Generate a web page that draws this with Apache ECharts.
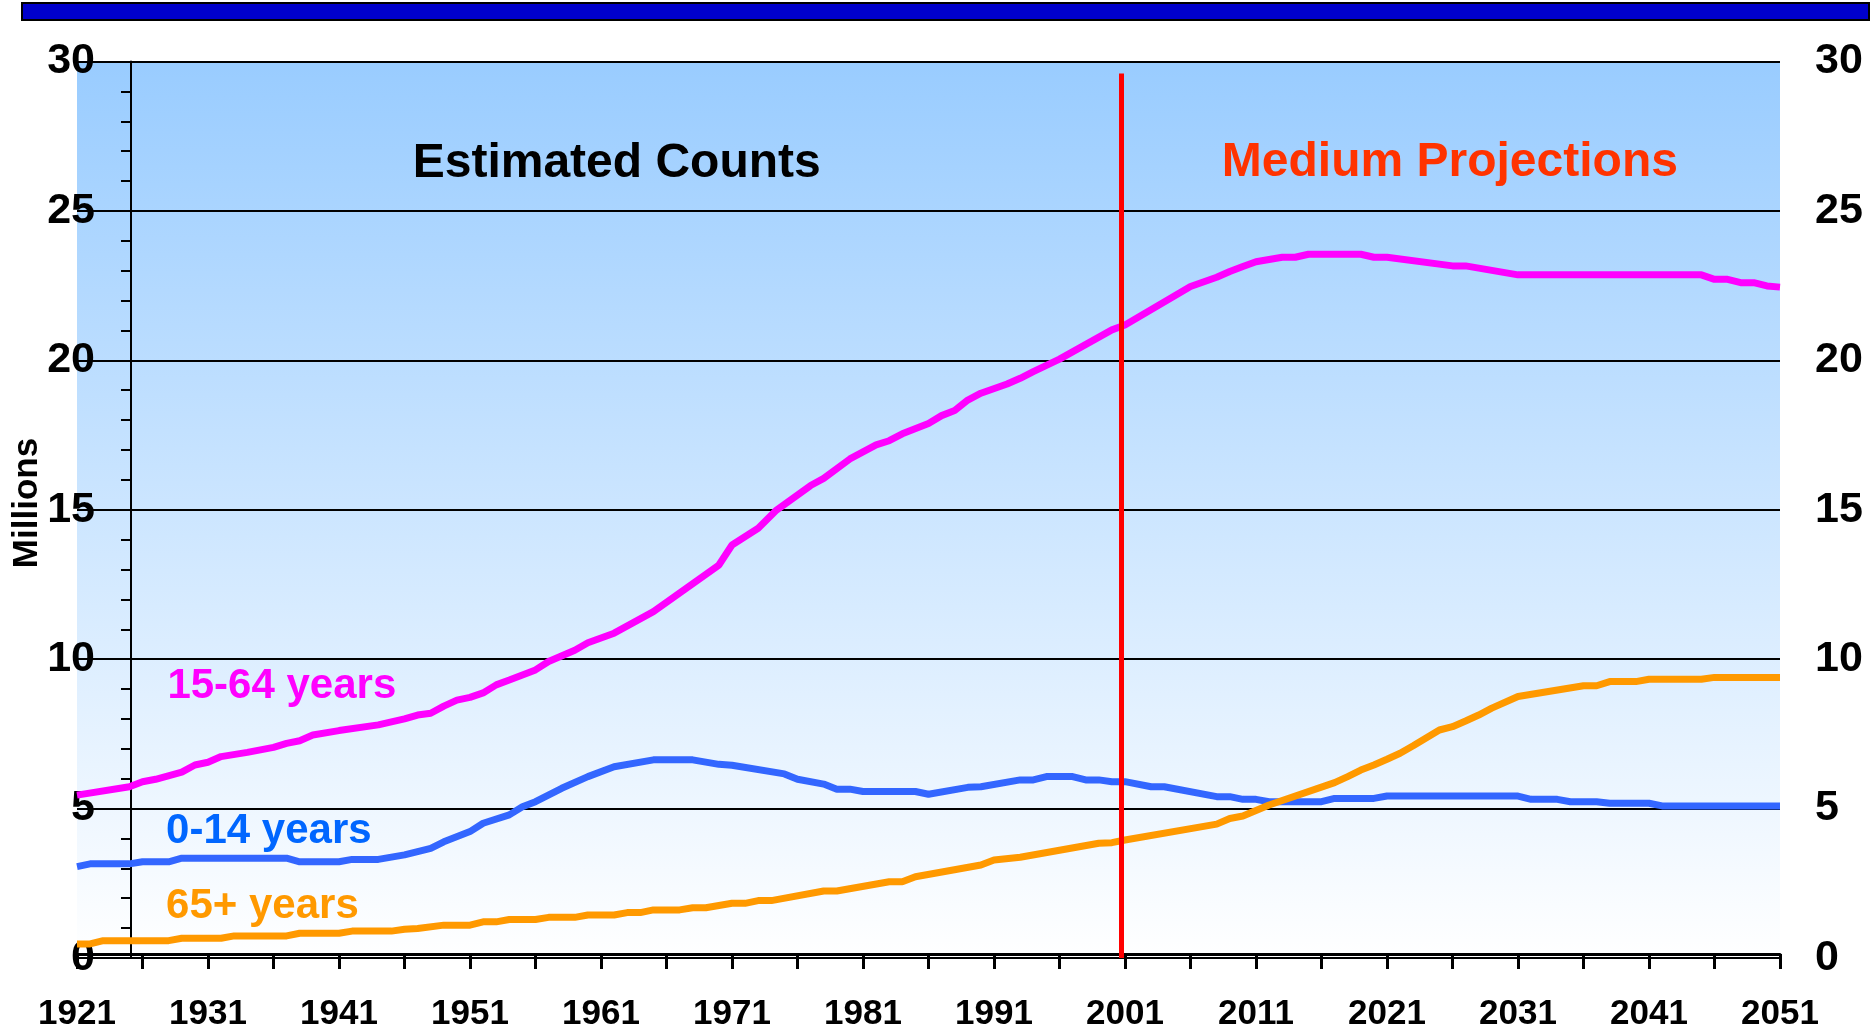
<!DOCTYPE html>
<html>
<head>
<meta charset="utf-8">
<title>Population by age group</title>
<script src="https://cdn.jsdelivr.net/npm/echarts@6/dist/echarts.min.js"></script>
<style>
  html, body { margin: 0; padding: 0; background: #fff; }
  #main { width: 1872px; height: 1035px; }
</style>
</head>
<body>
<div id="main"></div>
<script>
// values, millions
var adultYears = [1921, 1925, 1926, 1927, 1929, 1930, 1931, 1932, 1934, 1936, 1937, 1938, 1939, 1941, 1944, 1946, 1947, 1948, 1949, 1950,
  1951, 1952, 1953, 1954, 1956, 1957, 1959, 1960, 1962, 1965, 1967.5, 1970, 1971, 1973, 1974.4, 1977, 1978, 1980, 1982, 1983,
  1984, 1986, 1987, 1988, 1989, 1990, 1992, 1993, 1994, 1996, 2000, 2001, 2006, 2008, 2009, 2010, 2011, 2013, 2014, 2015,
  2019, 2020, 2021, 2026, 2027, 2031, 2045, 2046, 2047, 2048, 2049, 2050, 2051];
var adult = [5.45, 5.73, 5.9, 5.98, 6.22, 6.46, 6.55, 6.74, 6.88, 7.05, 7.18, 7.27, 7.46, 7.61, 7.8, 8.0, 8.13, 8.19, 8.43, 8.63,
  8.72, 8.87, 9.14, 9.3, 9.64, 9.92, 10.3, 10.55, 10.87, 11.59, 12.37, 13.15, 13.82, 14.38, 14.99, 15.81, 16.05, 16.7, 17.17, 17.31,
  17.54, 17.89, 18.15, 18.32, 18.67, 18.9, 19.21, 19.4, 19.62, 20.04, 21.02, 21.18, 22.47, 22.78, 22.97, 23.14, 23.3, 23.45, 23.45, 23.55,
  23.55, 23.45, 23.45, 23.16, 23.16, 22.86, 22.86, 22.71, 22.71, 22.6, 22.6, 22.49, 22.45];

var childYears = [1921, 1922, 1925, 1926, 1928, 1929, 1937, 1938, 1941, 1942, 1944, 1946, 1948, 1949, 1951, 1952, 1954, 1955, 1956, 1958,
  1960, 1962, 1965, 1968, 1970, 1971, 1975, 1976, 1978, 1979, 1980, 1981, 1985, 1986, 1989, 1990, 1993, 1994, 1995, 1997,
  1998, 1999, 2000, 2001, 2003, 2004, 2008, 2009, 2010, 2011, 2012, 2016, 2017, 2020, 2021, 2031, 2032, 2034, 2035, 2037,
  2038, 2041, 2042, 2051];
var child = [3.06, 3.15, 3.15, 3.22, 3.22, 3.34, 3.34, 3.22, 3.22, 3.3, 3.3, 3.45, 3.67, 3.89, 4.23, 4.51, 4.79, 5.06, 5.23, 5.68,
  6.07, 6.4, 6.63, 6.63, 6.48, 6.45, 6.16, 5.98, 5.82, 5.65, 5.65, 5.57, 5.57, 5.48, 5.71, 5.73, 5.96, 5.96, 6.07, 6.07,
  5.96, 5.96, 5.9, 5.9, 5.73, 5.73, 5.4, 5.4, 5.31, 5.31, 5.23, 5.23, 5.34, 5.34, 5.42, 5.42, 5.31, 5.31, 5.23, 5.23,
  5.18, 5.18, 5.09, 5.09];

var elderYears = [1921, 1922, 1923, 1928, 1929, 1932, 1933, 1937, 1938, 1941, 1942, 1945, 1946, 1947, 1949, 1951, 1952, 1953, 1954, 1956,
  1957, 1959, 1960, 1962, 1963, 1964, 1965, 1967, 1968, 1969, 1971, 1972, 1973, 1974, 1978, 1979, 1983, 1984, 1985, 1990,
  1991, 1993, 1999, 2000, 2001, 2008, 2009, 2010, 2012, 2017, 2018, 2019, 2020, 2021, 2022, 2023, 2025, 2026, 2027, 2028,
  2029, 2031, 2036, 2037, 2038, 2040, 2041, 2045, 2046, 2051];
var elder = [0.47, 0.47, 0.58, 0.58, 0.66, 0.66, 0.74, 0.74, 0.83, 0.83, 0.9, 0.9, 0.96, 0.99, 1.1, 1.1, 1.21, 1.21, 1.29, 1.29,
  1.36, 1.36, 1.44, 1.44, 1.52, 1.52, 1.61, 1.61, 1.68, 1.68, 1.83, 1.83, 1.92, 1.92, 2.24, 2.24, 2.55, 2.55, 2.72, 3.11,
  3.28, 3.37, 3.84, 3.86, 3.95, 4.48, 4.67, 4.75, 5.12, 5.87, 6.07, 6.29, 6.46, 6.65, 6.85, 7.1, 7.63, 7.74, 7.93, 8.13,
  8.36, 8.75, 9.11, 9.11, 9.25, 9.25, 9.33, 9.33, 9.39, 9.39];

var splitYear = 2000.7;

// text notes, anchored in data units
var notes = [
  { text: 'Estimated Counts', color: '#000000', year: 1962.2, value: 26.58, size: 48, align: 'center' },
  { text: 'Medium Projections', color: '#FF3300', year: 2025.8, value: 26.6, size: 48, align: 'center' },
  { text: '15-64 years', color: '#FF00FF', year: 1927.9, value: 9.08, size: 42, align: 'left' },
  { text: '0-14 years', color: '#0066FF', year: 1927.8, value: 4.24, size: 42, align: 'left' },
  { text: '65+ years', color: '#FF9900', year: 1927.8, value: 1.72, size: 42, align: 'left' }
];

var FONT = '"Liberation Sans", Arial, sans-serif';

function pairs(xs, ys) {
  return xs.map(function (x, i) { return [x, ys[i]] })
}

function lineSeries(name, color, data) {
  return {
    name: name,
    type: 'line',
    data: data,
    showSymbol: false,
    symbol: 'none',
    lineStyle: { color: color, width: 7 },
    z: 3
  }
}

var band = {
  type: 'rect',
  shape: { x: 22, y: 3, width: 1847, height: 17 },
  style: { fill: '#0000CC', stroke: '#000', lineWidth: 2 },
  z: 20
};

// y axis title, drawn sideways at the far left
var unitTitle = {
  type: 'text',
  x: 27,
  y: 503,
  rotation: Math.PI / 2,
  z: 20,
  style: {
    text: 'Millions',
    fill: '#000',
    font: 'bold 35px ' + FONT,
    align: 'center',
    verticalAlign: 'middle'
  }
};

var chart = echarts.init(document.getElementById('main'));

var adultLine = lineSeries('15-64 years', '#FF00FF', pairs(adultYears, adult));
adultLine.markLine = {
  silent: true,
  symbol: 'none',
  label: { show: false },
  lineStyle: { color: '#FF0000', width: 5, type: 'solid' },
  data: [[{ coord: [splitYear, 0] }, { coord: [splitYear, 29.6] }]]
};

chart.setOption({
  animation: false,
  backgroundColor: '#fff',
  textStyle: { fontFamily: FONT },
  grid: {
    left: 77,
    right: 92,
    top: 61.5,
    bottom: 77,
    outerBoundsMode: 'none',
    containLabel: false,
    show: true,
    borderWidth: 0,
    backgroundColor: new echarts.graphic.LinearGradient(0, 0, 0, 1, [
      { offset: 0, color: '#99CCFF' },
      { offset: 1, color: '#FFFFFF' }
    ])
  },
  xAxis: {
    type: 'value',
    min: 1921,
    max: 2051,
    interval: 5,
    offset: -4,
    axisLine: { lineStyle: { color: '#000', width: 3 } },
    axisTick: { length: 15, lineStyle: { color: '#000', width: 3 } },
    splitLine: { show: false },
    axisLabel: {
      margin: 43,
      color: '#000',
      fontSize: 35,
      fontWeight: 'bold',
      fontFamily: FONT,
      formatter: function (v) { return (v - 1921) % 10 === 0 ? String(v) : '' }
    }
  },
  yAxis: [{
    type: 'value',
    min: 0,
    max: 30,
    interval: 5,
    position: 'left',
    offset: -54,
    axisLine: { show: true, lineStyle: { color: '#000', width: 2 } },
    axisTick: { show: true, length: 10, lineStyle: { color: '#000', width: 2 } },
    minorTick: { show: true, splitNumber: 5, length: 10, lineStyle: { color: '#000', width: 2 } },
    splitLine: { show: true, lineStyle: { color: '#000', width: 2 } },
    axisLabel: { margin: 36, color: '#000', fontSize: 43, fontWeight: 'bold', fontFamily: FONT }
  }, {
    type: 'value',
    min: 0,
    max: 30,
    interval: 5,
    position: 'right',
    axisLine: { show: false },
    axisTick: { show: false },
    splitLine: { show: false },
    axisLabel: { margin: 35, color: '#000', fontSize: 43, fontWeight: 'bold', fontFamily: FONT }
  }],
  series: [
    adultLine,
    lineSeries('0-14 years', '#3366FF', pairs(childYears, child)),
    lineSeries('65+ years', '#FF9900', pairs(elderYears, elder))
  ],
  graphic: [band, unitTitle]
});

// place the text notes through the chart's own scales
var noteEls = notes.map(function (n) {
  var p = chart.convertToPixel({ gridIndex: 0 }, [n.year, n.value]);
  return {
    type: 'text',
    x: p[0],
    y: p[1],
    z: 15,
    style: {
      text: n.text,
      fill: n.color,
      font: 'bold ' + n.size + 'px ' + FONT,
      align: n.align,
      verticalAlign: 'middle'
    }
  }
});
chart.setOption({ graphic: [band, unitTitle].concat(noteEls) });
</script>
</body>
</html>
